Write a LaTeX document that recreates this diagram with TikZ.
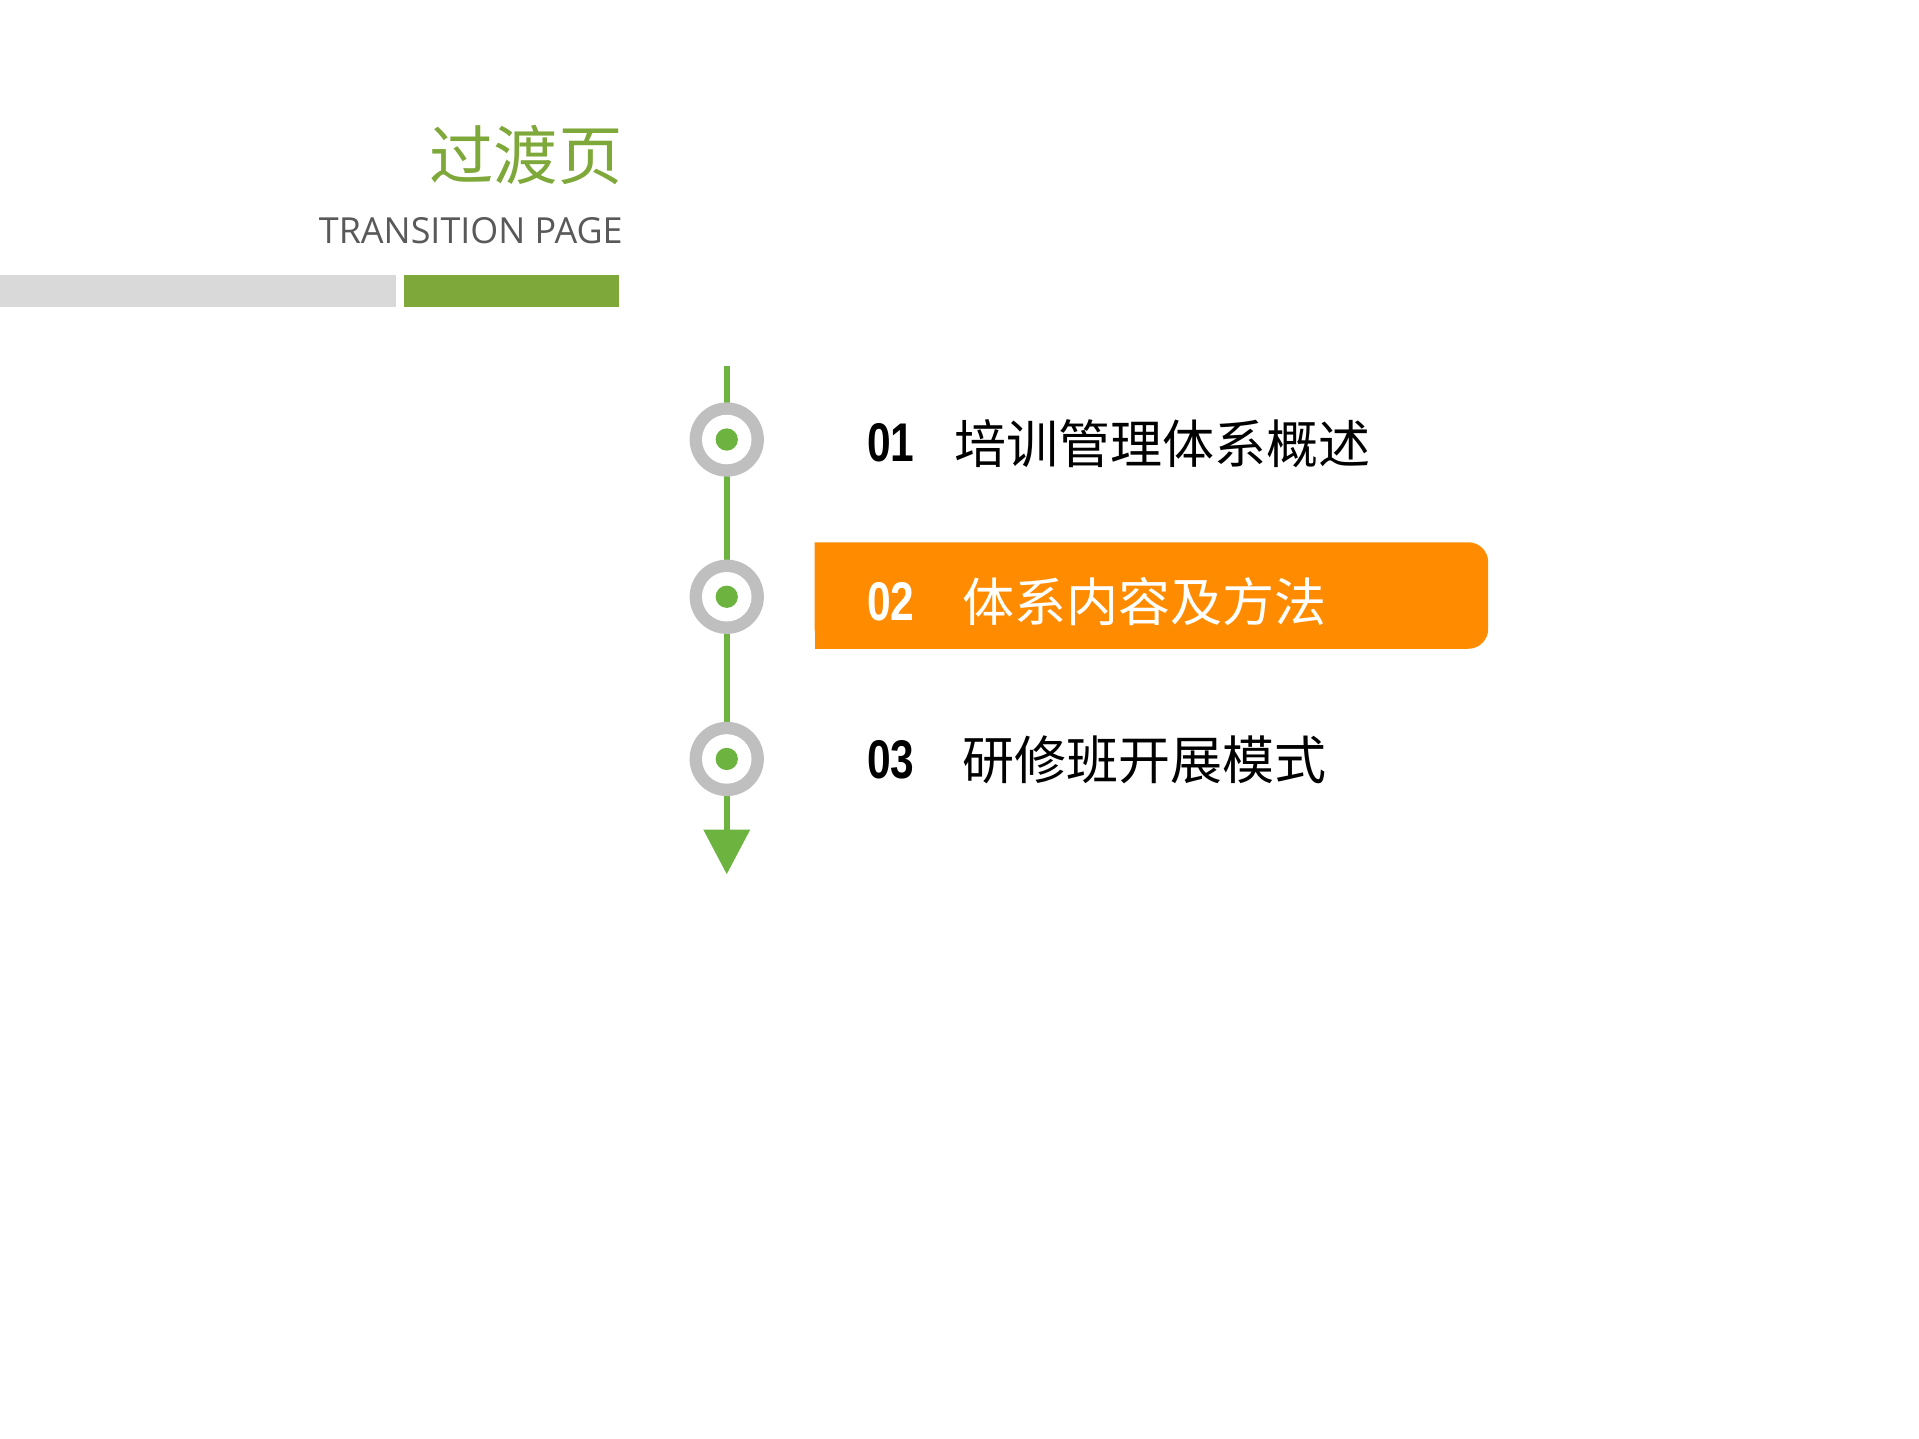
\documentclass[tikz,border=0pt]{standalone}
\usepackage{fontspec}
\setmainfont{Open Sans}
\newfontfamily\cjk{Noto Sans CJK SC}
\newfontfamily\numf{Liberation Sans}
\definecolor{tgreen}{HTML}{7FA83A}
\definecolor{lgreen}{HTML}{6DB33F}
\definecolor{cgray}{HTML}{BFBFBF}
\definecolor{bgray}{HTML}{D9D9D9}
\definecolor{tgray}{HTML}{595959}
\definecolor{orng}{HTML}{FF8C00}
\tikzset{
  numtxt/.style={anchor=west,font=\numf\bfseries\fontsize{22}{24}\selectfont,xscale=0.78},
  itemtxt/.style={anchor=west,font=\cjk\fontsize{21}{24}\selectfont},
}
\newcommand{\stepdot}[2]{%
  \fill[cgray] (587,#1) circle (30);
  \fill[white] (587,#1) circle (20);
  \fill[lgreen] (587,#1) circle (9);
  \coordinate (#2) at (587,#1);}
\begin{document}
\begin{tikzpicture}[x=0.5pt,y=-0.5pt]
\useasboundingbox (0,0) rectangle (1550,1162);
\node[anchor=east,text=tgreen,font=\cjk\fontsize{26}{28}\selectfont] (title) at (510,125) {过渡页};
\node[anchor=east,text=tgray,font=\fontsize{14.5}{16}\selectfont] (sub) at (510,186) {TRANSITION PAGE};
\fill[bgray] (0,222) rectangle (320,248);
\fill[tgreen] (326,222) rectangle (500,248);
\fill[orng,rounded corners=8pt] (658,438) -- (1202,438) -- (1202,524) -- (658,524) [sharp corners] -- cycle;
\fill[orng] (658,470) rectangle (700,524);
\coordinate (top) at (587,296);
\coordinate (bot) at (587,672);
\draw[lgreen,line width=2.5pt] (top) -- (bot);
\fill[lgreen] (568,670) -- (606,670) -- (587,706) -- cycle;
\stepdot{355}{s1}
\stepdot{482}{s2}
\stepdot{613}{s3}
\node[numtxt] (n1) at (695,358) {01};
\node[itemtxt] (t1) at (764,358) {培训管理体系概述};
\node[numtxt,text=white] (n2) at (695,486) {02};
\node[itemtxt,text=white] (t2) at (770,486) {体系内容及方法};
\node[numtxt] (n3) at (695,614) {03};
\node[itemtxt] (t3) at (770,614) {研修班开展模式};
\end{tikzpicture}
\end{document}
